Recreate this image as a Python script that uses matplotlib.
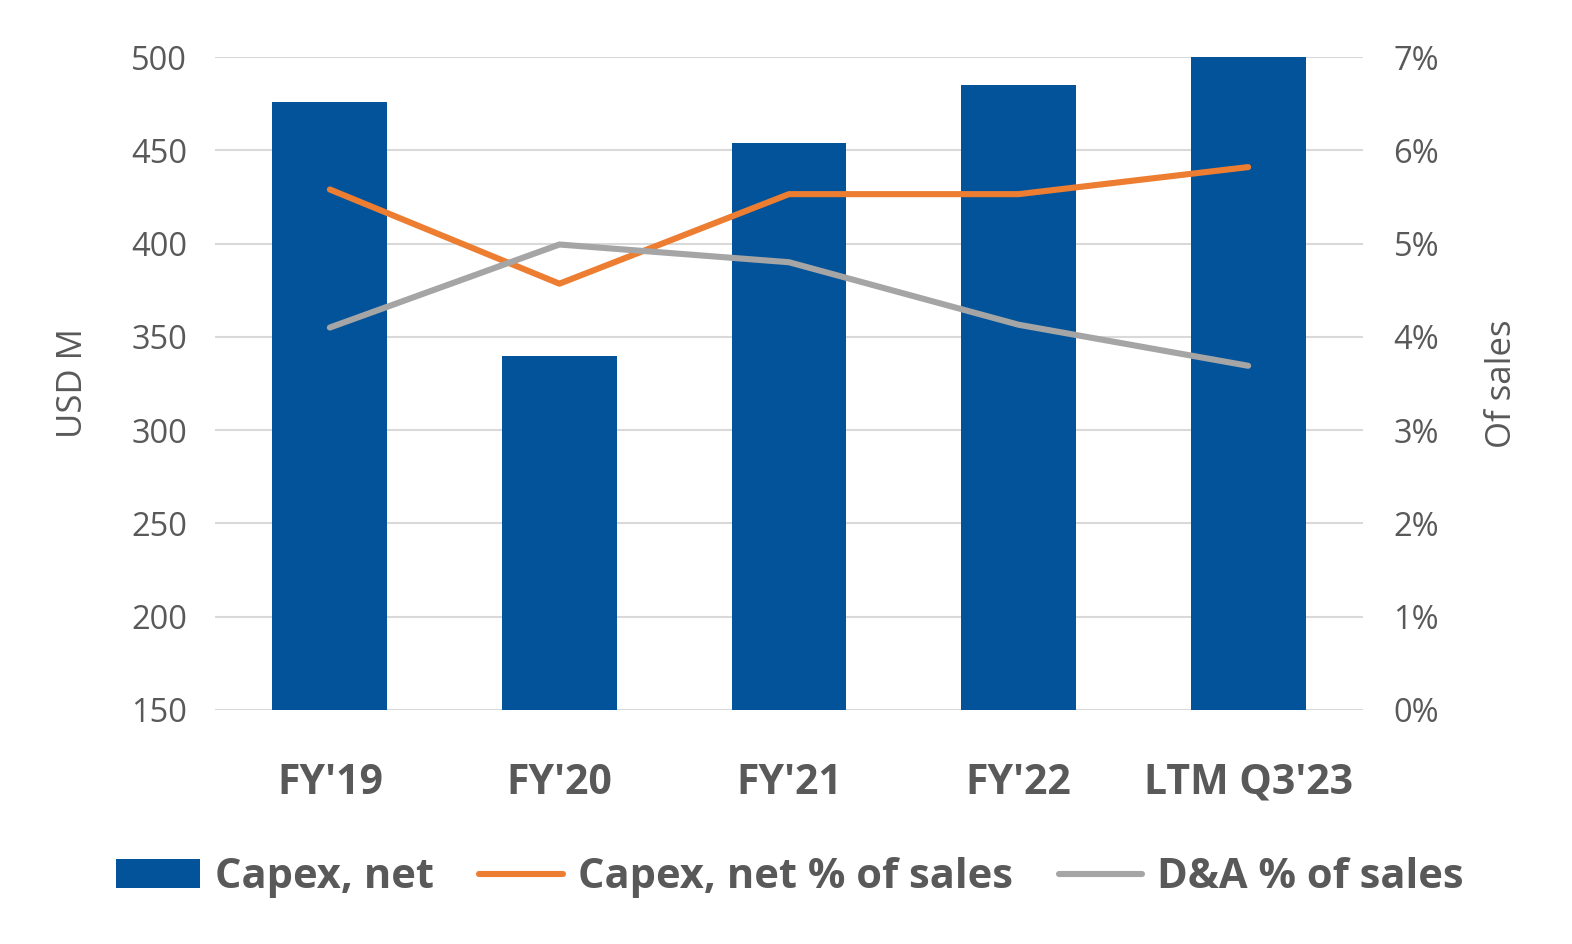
import matplotlib
matplotlib.use('Agg')
import matplotlib.pyplot as plt
import numpy as np
from matplotlib.ticker import FuncFormatter

plt.rcParams['font.family'] = ['Open Sans', 'DejaVu Sans']

CATEGORIES = ["FY'19", "FY'20", "FY'21", "FY'22", "LTM Q3'23"]
CAPEX_NET = [476, 340, 454, 485, 500]             # USD M
CAPEX_PCT = [5.58, 4.57, 5.53, 5.53, 5.82]        # % of sales
DA_PCT = [4.10, 4.99, 4.80, 4.13, 3.69]           # % of sales

LEFT_TICKS = [150, 200, 250, 300, 350, 400, 450, 500]
RIGHT_TICKS = [0, 1, 2, 3, 4, 5, 6, 7]

TEXT = '#595959'
BLUE = '#03539a'
ORANGE = '#ed7d31'
GRAY = '#a5a5a5'
GRID = '#d9d9d9'

fig = plt.figure(figsize=(15.72, 9.44), dpi=100)
ax = fig.add_axes([0.1368, 0.2479, 0.7302, 0.6917])
ax2 = ax.twinx()

x = np.arange(len(CATEGORIES))
bars = ax.bar(x, CAPEX_NET, width=0.5, color=BLUE, zorder=2, label='Capex, net')
l1, = ax2.plot(x, CAPEX_PCT, color=ORANGE, lw=4.4, solid_capstyle='round',
               label='Capex, net % of sales')
l2, = ax2.plot(x, DA_PCT, color=GRAY, lw=4.4, solid_capstyle='round',
               label='D&A % of sales')

ax.set_xlim(-0.5, len(CATEGORIES) - 0.5)
ax.set_ylim(150, 500)
ax.set_yticks(LEFT_TICKS)
ax2.set_ylim(0, 7)
ax2.set_yticks(RIGHT_TICKS)
ax2.yaxis.set_major_formatter(FuncFormatter(lambda v, p: f'{v:.0f}%'))

ax.yaxis.grid(True, color=GRID, lw=1.5, zorder=0)
ax.set_axisbelow(True)
for a in (ax, ax2):
    for s in a.spines.values():
        s.set_visible(False)

ax.set_xticks(x)
ax.set_xticklabels(CATEGORIES, fontsize=29.5, fontweight='bold', color=TEXT)
ax.tick_params(axis='x', length=0, pad=38)
ax.tick_params(axis='y', length=0, pad=20, labelsize=23.5, labelcolor=TEXT)
ax2.tick_params(axis='y', length=0, pad=22, labelsize=23.5, labelcolor=TEXT)

ax.set_ylabel('USD M', fontsize=25, color=TEXT, labelpad=30)
ax2.set_ylabel('Of sales', fontsize=25, color=TEXT, labelpad=33)

fig.legend(handles=[bars, l1, l2], loc='center', bbox_to_anchor=(0.5025, 0.07),
           ncol=3, frameon=False, handlelength=2.0,
           handletextpad=0.36, columnspacing=1.1,
           prop={'weight': 'bold', 'size': 30})
for t in fig.legends[0].get_texts():
    t.set_color(TEXT)

fig.savefig('out.png', dpi=100)
plt.close()
